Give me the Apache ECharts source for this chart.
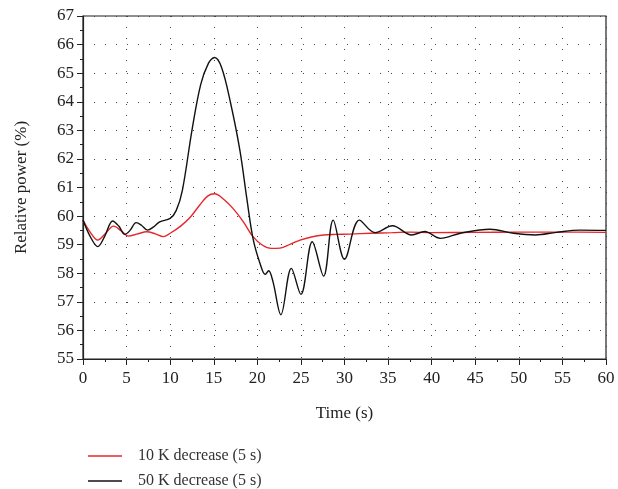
<!DOCTYPE html>
<html>
<head>
<meta charset="utf-8">
<script src="https://cdn.jsdelivr.net/npm/echarts@6/dist/echarts.min.js"></script>
<style>
  html, body { margin: 0; padding: 0; background: #fff; }
  #chart { width: 618px; height: 489px; }
</style>
</head>
<body>
<div id="chart"></div>
<script>
// values
const seriesNames = ['10 K decrease (5 s)', '50 K decrease (5 s)']

const redTime = [0, 0.8, 1.7, 2.6, 3.5, 4.4, 5.2, 6.3, 7.3, 8.3, 9.2, 10, 11.2, 12.3, 13.4, 14.3, 15.1, 16.1, 17.2, 18.4, 19.5, 20.6, 21.6, 22.6, 23.8, 24.9, 26.2, 27.6, 29, 30.6, 33, 35.5, 37.5, 40, 45, 50, 55, 60]
const redPower = [59.86, 59.45, 59.16, 59.4, 59.65, 59.48, 59.3, 59.38, 59.45, 59.38, 59.28, 59.4, 59.65, 59.96, 60.39, 60.7, 60.78, 60.6, 60.27, 59.8, 59.28, 58.98, 58.87, 58.88, 59.02, 59.16, 59.27, 59.34, 59.36, 59.37, 59.4, 59.42, 59.44, 59.42, 59.43, 59.44, 59.44, 59.43]

const blackTime = [0, 0.8, 1.7, 2.5, 3.4, 4.1, 4.8, 5.4, 6.1, 6.7, 7.4, 8.1, 8.8, 10, 10.7, 11.4, 12.5, 13.5, 14.4, 15.1, 15.9, 16.9, 18, 18.8, 19.5, 20.3, 20.9, 21.3, 21.8, 22.7, 23.9, 25, 26.3, 27.6, 28.7, 30, 31.7, 33.5, 35.5, 37.7, 39.2, 41, 43.3, 46.7, 49.4, 51.9, 54.3, 57, 60]
const blackPower = [59.86, 59.3, 58.93, 59.3, 59.83, 59.65, 59.36, 59.5, 59.77, 59.68, 59.51, 59.62, 59.8, 59.92, 60.2, 60.9, 63.0, 64.6, 65.35, 65.55, 65.2, 64.0, 62.3, 60.6, 59.22, 58.35, 57.96, 58.09, 57.7, 56.55, 58.17, 57.26, 59.1, 57.9, 59.86, 58.49, 59.86, 59.42, 59.66, 59.34, 59.46, 59.22, 59.4, 59.54, 59.4, 59.34, 59.43, 59.51, 59.5]

const xTicks = { min: 0, max: 60, step: 5 }
const yTicks = { min: 55, max: 67, step: 1 }

const font = 'Liberation Serif'
const dotted = { color: '#444', width: 1, type: [1, 10] }

function legendItem(name, top) {
  return {
    left: 83, top: top,
    itemWidth: 34, itemHeight: 1.5,
    icon: 'rect',
    textStyle: { fontFamily: font, fontSize: 16, color: '#333', padding: [0, 0, 0, 11] },
    data: [name]
  }
}

const chart = echarts.init(document.getElementById('chart'))

chart.setOption({
  animation: false,
  grid: {
    left: 83, top: 16, right: 12, bottom: 130,
    show: true, borderColor: '#222', borderWidth: 1.2
  },
  legend: [legendItem(seriesNames[0], 443), legendItem(seriesNames[1], 468)],
  xAxis: {
    type: 'value',
    min: xTicks.min, max: xTicks.max, interval: xTicks.step,
    name: 'Time (s)', nameLocation: 'middle', nameGap: 46,
    nameTextStyle: { fontFamily: font, fontSize: 17, color: '#222' },
    axisLine: { onZero: false, lineStyle: { color: '#222', width: 1.2 } },
    axisTick: { show: true, inside: false, length: 6, lineStyle: { color: '#222' } },
    minorTick: { show: true, splitNumber: 2, length: 3, lineStyle: { color: '#222' } },
    axisLabel: { fontFamily: font, fontSize: 17, color: '#222', margin: 11 },
    splitLine: { show: true, lineStyle: dotted }
  },
  yAxis: {
    type: 'value',
    min: yTicks.min, max: yTicks.max, interval: yTicks.step,
    name: 'Relative power (%)', nameLocation: 'middle', nameGap: 53,
    nameTextStyle: { fontFamily: font, fontSize: 17, color: '#222' },
    axisLine: { show: true, lineStyle: { color: '#222', width: 1.2 } },
    axisTick: { show: true, inside: false, length: 6, lineStyle: { color: '#222' } },
    minorTick: { show: true, splitNumber: 2, length: 3, lineStyle: { color: '#222' } },
    axisLabel: { fontFamily: font, fontSize: 17, color: '#222', margin: 9 },
    splitLine: { show: true, lineStyle: dotted }
  },
  series: [
    {
      name: seriesNames[0],
      type: 'line',
      smooth: 0.35,
      symbol: 'none',
      color: '#e8262a',
      lineStyle: { width: 1.4 },
      data: redTime.map((t, i) => [t, redPower[i]])
    },
    {
      name: seriesNames[1],
      type: 'line',
      smooth: 0.35,
      symbol: 'none',
      color: '#111',
      lineStyle: { width: 1.4 },
      data: blackTime.map((t, i) => [t, blackPower[i]])
    }
  ]
})
</script>
</body>
</html>
